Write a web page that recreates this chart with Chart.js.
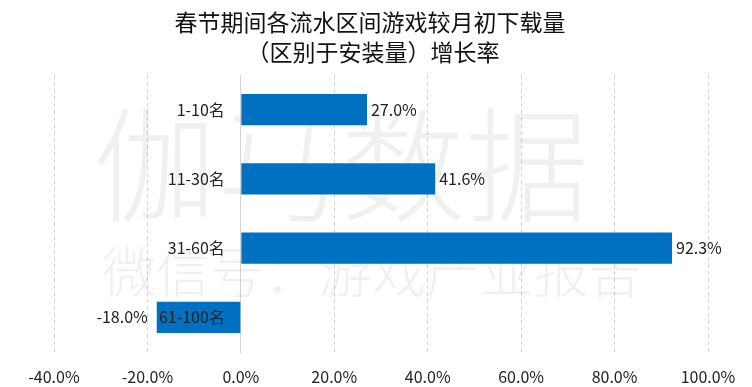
<!DOCTYPE html>
<html>
<head>
<meta charset="utf-8">
<script src="https://cdn.jsdelivr.net/npm/chart.js@4/dist/chart.umd.min.js"></script>
<style>
html,body{margin:0;padding:0;background:#fff;}
#wrap{width:752px;height:387px;position:relative;}
</style>
</head>
<body>
<div id="wrap"><canvas id="c" width="752" height="387"></canvas></div>
<script>
const categories = ['1-10名', '11-30名', '31-60名', '61-100名'];
const growthValues = [27.0, 41.6, 92.3, -18.0];
const titleLines = ['春节期间各流水区间游戏较月初下载量', '（区别于安装量）增长率'];
const xTickMin = -40;
const xTickMax = 100;
const xTickStep = 20;
const watermarkMain = '伽马数据';
const watermarkSub = '微信号：游戏产业报告';

const FONT = '"Noto Sans CJK SC", "Noto Sans", sans-serif';

const titlePlugin = {
  id: 'twoLineTitle',
  afterDraw(chart) {
    const ctx = chart.ctx;
    ctx.save();
    ctx.fillStyle = '#111';
    ctx.textAlign = 'center';
    ctx.textBaseline = 'middle';
    ctx.font = '23px ' + FONT;
    ctx.fillText(titleLines[0], 370, 22);
    ctx.fillText(titleLines[1], 373, 52);
    ctx.restore();
  }
};

const watermarkPlugin = {
  id: 'watermark',
  beforeDatasetsDraw(chart) {
    const ctx = chart.ctx;
    ctx.save();
    ctx.fillStyle = 'rgba(0,0,0,0.06)';
    ctx.textAlign = 'center';
    ctx.textBaseline = 'middle';
    ctx.font = '300 124px ' + FONT;
    ctx.fillText(watermarkMain, 341, 165);
    ctx.font = '300 54px ' + FONT;
    ctx.fillText(watermarkSub, 372, 272);
    ctx.restore();
  }
};

const valueLabelPlugin = {
  id: 'valueLabels',
  afterDatasetsDraw(chart) {
    const ctx = chart.ctx;
    const meta = chart.getDatasetMeta(0);
    ctx.save();
    ctx.font = '16px ' + FONT;
    ctx.fillStyle = '#222';
    ctx.textBaseline = 'middle';
    meta.data.forEach((bar, i) => {
      const v = growthValues[i];
      const txt = v.toFixed(1) + '%';
      if (v >= 0) {
        ctx.textAlign = 'left';
        ctx.fillText(txt, bar.x + 4, bar.y);
      } else {
        ctx.textAlign = 'right';
        ctx.fillText(txt, bar.x - 9, bar.y);
      }
    });
    ctx.restore();
  }
};

new Chart(document.getElementById('c'), {
  type: 'bar',
  data: {
    labels: categories,
    datasets: [{
      data: growthValues,
      backgroundColor: '#0070C0',
      borderWidth: 0,
      categoryPercentage: 1.0,
      barPercentage: 0.45
    }]
  },
  plugins: [watermarkPlugin, valueLabelPlugin, titlePlugin],
  options: {
    indexAxis: 'y',
    responsive: false,
    animation: false,
    devicePixelRatio: 1,
    layout: { padding: { left: 54, right: 44, top: 75, bottom: 0 } },
    plugins: {
      legend: { display: false },
      tooltip: { enabled: false },
      title: { display: false }
    },
    scales: {
      x: {
        type: 'linear',
        min: xTickMin,
        max: xTickMax,
        afterFit(scale) { scale.height = 35; scale.paddingLeft = 0; scale.paddingRight = 0; },
        ticks: {
          stepSize: xTickStep,
          color: '#222',
          font: { family: FONT, size: 16 },
          padding: 15,
          maxRotation: 0,
          callback: (v) => v.toFixed(1) + '%'
        },
        grid: {
          color: '#d4d4d4',
          lineWidth: 1,
          drawTicks: false
        },
        border: { display: false, dash: [4, 3] }
      },
      y: {
        position: { x: 0 },
        afterFit(scale) { scale.width = 0; scale.paddingTop = 0; scale.paddingBottom = 0; },
        ticks: {
          z: 1,
          color: '#222',
          font: { family: FONT, size: 16 },
          callback: function(v, i) { return categories[i] + '\u2003'; }
        },
        grid: { display: false, drawTicks: false },
        border: { display: true, color: '#d4d4d4', width: 1 }
      }
    }
  }
});
</script>
</body>
</html>
